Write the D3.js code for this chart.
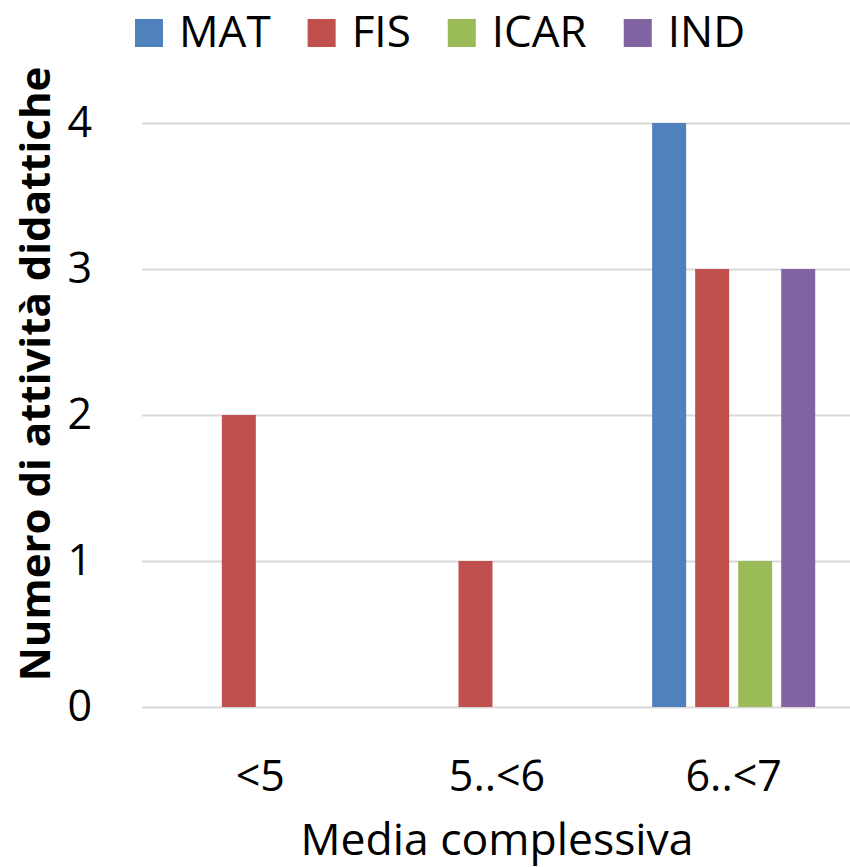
<!DOCTYPE html>
<html>
<head>
<meta charset="utf-8">
<script src="https://cdn.jsdelivr.net/npm/d3@7/dist/d3.min.js"></script>
<style>
  html, body { margin: 0; padding: 0; background: #fff; }
  svg { display: block; }
  text { font-family: "Open Sans", "Noto Sans", sans-serif; fill: #000; }
</style>
</head>
<body>
<svg id="chart" width="850" height="867"></svg>
<script>
// Categories (overall average bands) and series
const categories = ["<5", "5..<6", "6..<7"];
const seriesNames = ["MAT", "FIS", "ICAR", "IND"];
const seriesColors = ["#4F81BD", "#C0504D", "#9BBB59", "#8064A2"];

// Number of teaching activities per series, one value per category
const matValues = [0, 0, 4];
const fisValues = [2, 1, 3];
const icarValues = [0, 0, 1];
const indValues = [0, 0, 3];

const yTicks = [0, 1, 2, 3, 4];
const xTitle = "Media complessiva";
const yTitle = "Numero di attività didattiche";

const seriesValues = [matValues, fisValues, icarValues, indValues];

const rows = [];
categories.forEach((c, ci) => {
  seriesNames.forEach((s, si) => {
    rows.push({ category: c, series: s, value: seriesValues[si][ci], color: seriesColors[si] });
  });
});

const svg = d3.select("#chart");
const plot = { left: 142, right: 852, top: 123, bottom: 707 };

const x = d3.scaleBand()
  .domain(categories)
  .range([plot.left, plot.right])
  .paddingInner(0.311)
  .paddingOuter(0.1555);

const xInner = d3.scaleBand()
  .domain(seriesNames)
  .range([0, x.bandwidth()])
  .paddingInner(0.21)
  .paddingOuter(0);

const y = d3.scaleLinear()
  .domain([0, 4])
  .range([plot.bottom, plot.top]);

// Horizontal gridlines
svg.append("g")
  .attr("transform", `translate(${plot.left},0)`)
  .call(d3.axisLeft(y).tickValues(yTicks).tickSize(-(850 - plot.left)).tickFormat(""))
  .call(g => g.select(".domain").remove())
  .call(g => g.selectAll(".tick line").attr("stroke", "#d9d9d9").attr("stroke-width", 2));

// Bars
svg.append("g")
  .selectAll("rect")
  .data(rows.filter(d => d.value > 0))
  .join("rect")
  .attr("x", d => x(d.category) + xInner(d.series))
  .attr("width", xInner.bandwidth())
  .attr("y", d => y(d.value))
  .attr("height", d => y(0) - y(d.value))
  .attr("fill", d => d.color);

// Y axis labels
svg.append("g")
  .attr("transform", `translate(${plot.left},0)`)
  .call(d3.axisLeft(y).tickValues(yTicks).tickSize(0).tickPadding(50).tickFormat(d3.format("d")))
  .call(g => g.select(".domain").remove())
  .call(g => g.selectAll("text")
    .style("font-family", '"Open Sans", sans-serif')
    .style("font-size", "43px")
    .attr("fill", "#000"));

// X axis labels
svg.append("g")
  .attr("transform", `translate(0,${plot.bottom})`)
  .call(d3.axisBottom(x).tickSize(0).tickPadding(53))
  .call(g => g.select(".domain").remove())
  .call(g => g.selectAll("text")
    .style("font-family", '"Open Sans", sans-serif')
    .style("font-size", "43px")
    .attr("fill", "#000"));

// Axis titles
svg.append("text")
  .attr("x", 497)
  .attr("y", 855)
  .attr("text-anchor", "middle")
  .style("font-size", "44.5px")
  .text(xTitle);

svg.append("text")
  .attr("transform", "translate(50,374) rotate(-90)")
  .attr("text-anchor", "middle")
  .style("font-size", "42px")
  .style("font-weight", "bold")
  .text(yTitle);

// Legend laid out left to right
const legend = svg.append("g").attr("transform", "translate(135,0)");
let cursor = 0;
seriesNames.forEach((name, i) => {
  const item = legend.append("g").attr("transform", `translate(${cursor},0)`);
  item.append("rect")
    .attr("x", 0).attr("y", 19)
    .attr("width", 28).attr("height", 28)
    .attr("fill", seriesColors[i]);
  const t = item.append("text")
    .attr("x", 44).attr("y", 47)
    .style("font-size", "44px")
    .text(name);
  cursor += 44 + t.node().getComputedTextLength() + 37;
});
</script>
</body>
</html>
